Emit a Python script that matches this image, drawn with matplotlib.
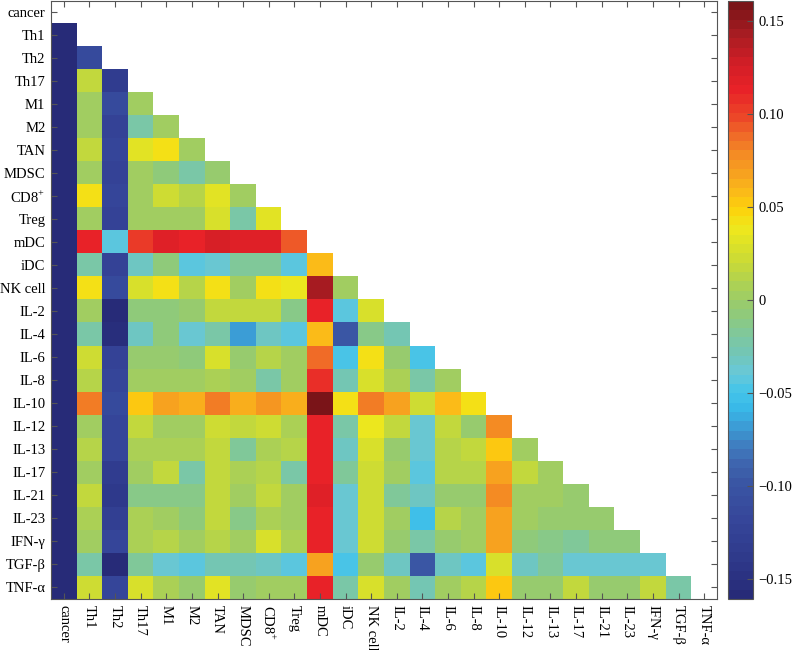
import matplotlib.pyplot as plt
import numpy as np
from matplotlib.colors import LinearSegmentedColormap

plt.rcParams['font.family'] = ['Liberation Serif', 'DejaVu Serif']
plt.rcParams['mathtext.fontset'] = 'custom'
plt.rcParams['mathtext.rm'] = 'Liberation Serif'

labels = ['cancer', 'Th1', 'Th2', 'Th17', 'M1', 'M2', 'TAN', 'MDSC', 'CD8$^{+}$', 'Treg',
          'mDC', 'iDC', 'NK cell', 'IL-2', 'IL-4', 'IL-6', 'IL-8', 'IL-10', 'IL-12', 'IL-13',
          'IL-17', 'IL-21', 'IL-23', 'IFN-γ', 'TGF-β', 'TNF-α']

# strict lower triangle, row i holds columns 0..i-1
lower_rows = [
    [-0.158],
    [-0.158, -0.115],
    [-0.158, 0.02, -0.135],
    [-0.158, 0.005, -0.115, 0.005],
    [-0.158, 0.005, -0.125, -0.025, 0.0],
    [-0.158, 0.02, -0.12, 0.035, 0.045, 0.0],
    [-0.158, 0.005, -0.125, 0.005, -0.01, -0.025, -0.005],
    [-0.158, 0.045, -0.12, 0.005, 0.025, 0.015, 0.035, 0.0],
    [-0.158, 0.005, -0.125, 0.0, 0.0, 0.0, 0.03, -0.025, 0.035],
    [-0.158, 0.115, -0.045, 0.105, 0.118, 0.112, 0.125, 0.118, 0.118, 0.095],
    [-0.158, -0.025, -0.125, -0.035, -0.01, -0.045, -0.04, -0.02, -0.02, -0.045, 0.06],
    [-0.158, 0.045, -0.115, 0.03, 0.043, 0.015, 0.045, 0.005, 0.045, 0.04, 0.145, 0.005],
    [-0.158, 0.005, -0.16, -0.01, -0.01, -0.005, 0.02, 0.02, 0.02, -0.015, 0.115, -0.045, 0.03],
    [-0.158, -0.025, -0.155, -0.035, -0.01, -0.04, -0.025, -0.07, -0.035, -0.045, 0.06, -0.1,
     -0.015, -0.03],
    [-0.158, 0.025, -0.125, -0.005, -0.005, -0.01, 0.03, -0.005, 0.015, 0.0, 0.09, -0.05,
     0.045, -0.005, -0.05],
    [-0.158, 0.015, -0.12, 0.0, 0.005, 0.005, 0.01, 0.0, -0.025, 0.0, 0.11, -0.03,
     0.03, 0.01, -0.025, 0.0],
    [-0.158, 0.085, -0.115, 0.055, 0.068, 0.063, 0.085, 0.063, 0.075, 0.063, 0.16, 0.045,
     0.083, 0.068, 0.025, 0.06, 0.045],
    [-0.158, 0.005, -0.12, 0.02, 0.0, 0.0, 0.025, 0.02, 0.025, 0.01, 0.115, -0.025,
     0.04, 0.02, -0.04, 0.02, -0.005, 0.078],
    [-0.158, 0.015, -0.12, 0.01, 0.01, 0.01, 0.02, -0.02, 0.01, 0.015, 0.115, -0.035,
     0.03, -0.005, -0.04, 0.015, 0.02, 0.055, 0.0],
    [-0.158, 0.0, -0.135, 0.0, 0.02, -0.025, 0.02, 0.01, 0.015, -0.025, 0.115, -0.02,
     0.025, 0.005, -0.045, 0.015, 0.015, 0.068, 0.02, 0.0],
    [-0.158, 0.02, -0.14, -0.015, -0.015, -0.015, 0.02, 0.0, 0.02, 0.0, 0.12, -0.04,
     0.025, -0.02, -0.035, -0.005, -0.005, 0.078, 0.0, 0.0, -0.005],
    [-0.158, 0.01, -0.13, 0.01, 0.0, -0.01, 0.02, -0.015, 0.01, 0.0, 0.115, -0.04,
     0.025, 0.0, -0.055, 0.015, 0.0, 0.07, 0.0, -0.005, -0.005, -0.005],
    [-0.158, 0.005, -0.12, 0.01, 0.015, 0.005, 0.015, 0.0, 0.03, 0.01, 0.115, -0.04,
     0.025, -0.005, -0.025, -0.005, 0.0, 0.07, -0.01, -0.015, -0.02, -0.01, -0.01],
    [-0.158, -0.025, -0.16, -0.02, -0.04, -0.045, -0.03, -0.03, -0.035, -0.045, 0.07, -0.05,
     -0.005, -0.035, -0.1, -0.035, -0.045, 0.03, -0.035, -0.02, -0.04, -0.04, -0.04, -0.04],
    [-0.158, 0.025, -0.12, 0.03, 0.01, -0.005, 0.035, -0.005, 0.0, 0.0, 0.115, -0.025,
     0.03, 0.0, -0.03, 0.0, 0.015, 0.055, -0.005, -0.005, 0.02, -0.005, -0.005, 0.02, -0.025],
]

cbar_ticks = [-0.15, -0.10, -0.05, 0, 0.05, 0.10, 0.15]
cbar_labels = ['\u22120.15', '\u22120.10', '\u22120.05', '0', '0.05', '0.10', '0.15']

vmin, vmax = -0.161, 0.161
anchors = [
    (-0.161, '#272b78'), (-0.14, '#2f3a8c'), (-0.12, '#36469a'), (-0.10, '#3a56a4'),
    (-0.09, '#3e64ae'), (-0.08, '#3f7dbf'), (-0.07, '#3c9ad4'), (-0.06, '#38b8e8'),
    (-0.05, '#44c4ea'), (-0.04, '#68c8d8'), (-0.03, '#72c6b8'), (-0.02, '#7ec8a0'),
    (-0.01, '#8cca80'), (0.0, '#9ccc68'), (0.01, '#b0d250'), (0.02, '#c8da38'),
    (0.03, '#dce228'), (0.04, '#f0e81c'), (0.05, '#fdd20c'), (0.06, '#fbb81a'),
    (0.07, '#f7a020'), (0.08, '#f48a24'), (0.09, '#f06a28'), (0.10, '#ec4628'),
    (0.115, '#e82228'), (0.13, '#d01e26'), (0.145, '#a81c22'), (0.161, '#7a1418'),
]
cmap = LinearSegmentedColormap.from_list(
    'corr', [((v - vmin) / (vmax - vmin), c) for v, c in anchors], N=64)

n = len(labels)
mat = np.full((n, n), np.nan)
for i, row in enumerate(lower_rows, start=1):
    mat[i, :len(row)] = row

fig = plt.figure(figsize=(7.92, 6.5), dpi=100)
ax = fig.add_axes([0.0644, 0.0785, 0.8409, 0.9200])
cax = fig.add_axes([0.919, 0.0785, 0.0316, 0.9200])

im = ax.imshow(mat, cmap=cmap, vmin=vmin, vmax=vmax, aspect='auto', interpolation='nearest')

edge = '#555555'
ax.set_xticks(range(n))
ax.set_yticks(range(n))
ax.set_xticklabels(labels, rotation=-90, fontsize=10.5, va='top', ha='center')
ax.set_yticklabels(labels, fontsize=10.5)
ax.tick_params(direction='in', top=True, right=True, length=4, color=edge, pad=4)
for s in ax.spines.values():
    s.set_color(edge)

cb = fig.colorbar(im, cax=cax)
cb.set_ticks(cbar_ticks)
cb.set_ticklabels(cbar_labels)
cb.ax.tick_params(direction='in', length=4, color=edge, labelsize=10.5, pad=4)
cb.outline.set_edgecolor(edge)

fig.savefig('out.png', dpi=100)
